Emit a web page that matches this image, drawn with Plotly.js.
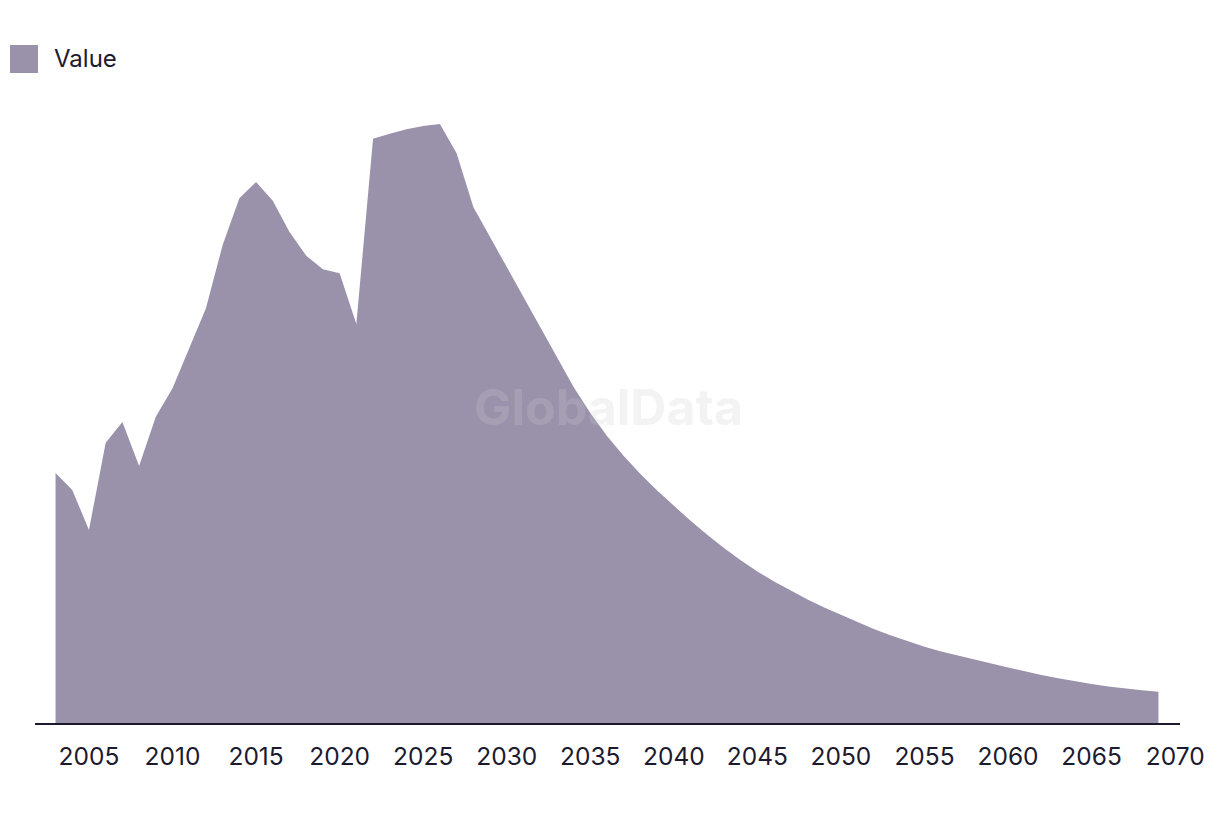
<!DOCTYPE html>
<html>
<head>
<meta charset="utf-8">
<script src="https://cdn.plot.ly/plotly-3.0.1.min.js"></script>
<style>
  html, body { margin: 0; padding: 0; background: #ffffff; }
  #chart { width: 1220px; height: 814px; }
</style>
</head>
<body>
<div id="chart"></div>
<script>
// Years and values
const years = [
  2003, 2004, 2005, 2006, 2007, 2008, 2009, 2010, 2011, 2012,
  2013, 2014, 2015, 2016, 2017, 2018, 2019, 2020, 2021, 2022,
  2023, 2024, 2025, 2026, 2027, 2028, 2029, 2030, 2031, 2032,
  2033, 2034, 2035, 2036, 2037, 2038, 2039, 2040, 2041, 2042,
  2043, 2044, 2045, 2046, 2047, 2048, 2049, 2050, 2051, 2052,
  2053, 2054, 2055, 2056, 2057, 2058, 2059, 2060, 2061, 2062,
  2063, 2064, 2065, 2066, 2067, 2068, 2069
];
const values = [
  25.00, 23.30, 19.30, 28.03, 30.10, 25.70, 30.63, 33.47, 37.47, 41.47,
  47.80, 52.47, 54.10, 52.23, 49.10, 46.73, 45.37, 44.97, 39.90, 58.43,
  58.93, 59.37, 59.70, 59.90, 56.97, 51.60, 48.60, 45.60, 42.60, 39.50,
  36.45, 33.60, 31.00, 28.70, 26.70, 24.90, 23.25, 21.70, 20.22, 18.82,
  17.50, 16.28, 15.16, 14.14, 13.21, 12.35, 11.55, 10.80, 10.06, 9.38,
  8.75, 8.16, 7.63, 7.14, 6.72, 6.33, 5.95, 5.56, 5.17, 4.80,
  4.47, 4.17, 3.90, 3.66, 3.45, 3.28, 3.13
];
const tickYears = [2005, 2010, 2015, 2020, 2025, 2030, 2035, 2040, 2045, 2050, 2055, 2060, 2065, 2070];
const seriesName = "Value";
const watermark = "GlobalData";

const fillColor = "#9a91aa";
const inkColor = "#1c1a2e";
const fontFamily = "Inter, 'Liberation Sans', sans-serif";

const trace = {
  x: years,
  y: values,
  type: "scatter",
  mode: "lines",
  fill: "tozeroy",
  fillcolor: fillColor,
  line: { width: 0, color: fillColor, shape: "linear" },
  name: seriesName,
  showlegend: false,
  hoverinfo: "x+y"
};

const layout = {
  width: 1220,
  height: 814,
  margin: { l: 35, r: 40, t: 100, b: 91, pad: 0 },
  paper_bgcolor: "#ffffff",
  plot_bgcolor: "#ffffff",
  showlegend: false,
  font: { family: fontFamily, color: inkColor, size: 22 },
  xaxis: {
    range: [2001.77, 2070.29],
    tickvals: tickYears,
    ticktext: tickYears.map(String),
    showgrid: false,
    zeroline: false,
    showline: true,
    linecolor: inkColor,
    linewidth: 2,
    ticks: "",
    ticklabelstandoff: 11,
    tickfont: { family: fontFamily, size: 24.5, color: inkColor },
    fixedrange: true
  },
  yaxis: {
    range: [0, 62.3],
    showgrid: false,
    zeroline: false,
    showline: false,
    showticklabels: false,
    ticks: "",
    fixedrange: true
  },
  shapes: [
    {
      type: "rect", xref: "paper", yref: "paper",
      xsizemode: "pixel", ysizemode: "pixel",
      xanchor: 0, yanchor: 1.0,
      x0: -25, x1: 3, y0: 55, y1: 27,
      fillcolor: fillColor, line: { width: 0 }, layer: "above"
    }
  ],
  annotations: [
    {
      xref: "paper", yref: "paper",
      x: 0, y: 1, xshift: 17, yshift: 42,
      xanchor: "left", yanchor: "middle",
      text: seriesName, showarrow: false,
      font: { family: fontFamily, size: 24, color: inkColor }
    },
    {
      xref: "paper", yref: "paper",
      x: 0.5, y: 0.5, xshift: 1, yshift: 5,
      xanchor: "center", yanchor: "middle",
      text: "<b>" + watermark + "</b>", showarrow: false,
      font: { family: fontFamily, size: 50, color: "rgba(204,204,210,0.24)" }
    }
  ]
};

Plotly.newPlot("chart", [trace], layout, { displayModeBar: false, responsive: false, staticPlot: true });
</script>
</body>
</html>
